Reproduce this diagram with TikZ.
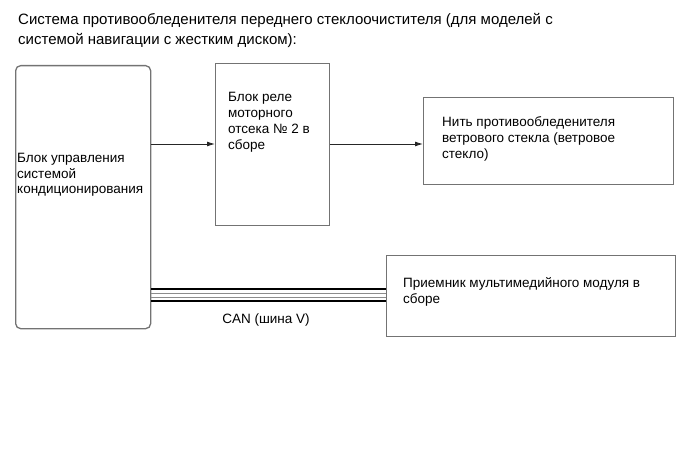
\documentclass[tikz,border=0pt]{standalone}
\usepackage{fontspec}
\setmainfont{Liberation Sans}
\usetikzlibrary{positioning, arrows.meta}

\begin{document}
\begin{tikzpicture}[x=1pt, y=-1pt, font=\fontsize{13.5}{15.7}\selectfont,
    box/.style={draw=black!55, line width=1.3pt, anchor=north west, inner sep=0pt},
    txt/.style={anchor=north west, align=left, inner sep=0pt},
    link/.style={-{Latex[length=8pt, width=5pt]}, draw=black!85, line width=0.9pt}]
    \useasboundingbox (0,0) rectangle (690,465);

    % Title
    \node[txt, font=\fontsize{15}{20}\selectfont] (title) at (18,13)
        {Система противообледенителя переднего стеклоочистителя (для моделей с\\
         системой навигации с жестким диском):};

    % Blocks
    \node[box, rounded corners=5pt, minimum width=135pt, minimum height=263pt] (ctrl) at (15,65) {};
    \node[box, minimum width=114pt, minimum height=162pt] (relay) at (215,63) {};
    \node[box, minimum width=250pt, minimum height=87pt] (heater) at (423,97) {};
    \node[box, minimum width=289pt, minimum height=81pt] (recv) at (386,255) {};

    % Block texts
    \node[txt] (ctrltxt) at (17,153) {Блок управления\\системой\\кондиционирования};
    \node[txt] (relaytxt) at (228,92.5) {Блок реле\\моторного\\отсека № 2 в\\сборе};
    \node[txt] (heatertxt) at (442,116.5) {Нить противообледенителя\\ветрового стекла (ветровое\\стекло)};
    \node[txt] (recvtxt) at (403,277.5) {Приемник мультимедийного модуля в\\сборе};

    % Arrows
    \coordinate (row) at (0,144);
    \draw[link] (ctrl.east |- row) -- (relay.west |- row);
    \draw[link] (relay.east |- row) -- (heater.west |- row);

    % CAN bus
    \draw[line width=2.6pt] (ctrl.east |- 0,289) -- (recv.west |- 0,289);
    \draw[black!45, line width=0.8pt] (ctrl.east |- 0,293) -- (recv.west |- 0,293);
    \draw[black!45, line width=0.8pt] (ctrl.east |- 0,297) -- (recv.west |- 0,297);
    \draw[line width=2.6pt] (ctrl.east |- 0,301) -- (recv.west |- 0,301);
    \node (can) at (266,320) {CAN (шина V)};
\end{tikzpicture}
\end{document}
